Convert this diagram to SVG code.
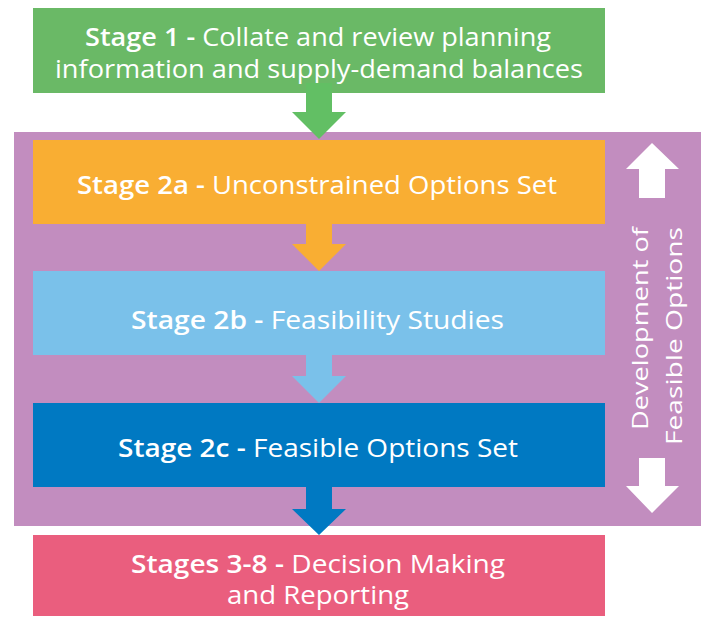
<svg xmlns="http://www.w3.org/2000/svg" width="705" height="617" viewBox="0 0 705 617">
<style>
text{font-family:"Open Sans","Liberation Sans",sans-serif;fill:#fff;font-size:25px}
.b{font-weight:600}
.v{font-size:21px;font-weight:500}
</style>
<rect width="705" height="617" fill="#fff"/>
<g id="panel">
<rect x="14" y="132" width="687" height="394" fill="#C28DBF"/>
<polygon points="652,143 679,169 665,169 665,198 639,198 639,169 626,169" fill="#fff"/>
<polygon points="639,458 665,458 665,486 679,486 652,513 626,486 639,486" fill="#fff"/>
<text class="v" transform="translate(648,430) rotate(-90)" textLength="203" lengthAdjust="spacingAndGlyphs">Development of</text>
<text class="v" transform="translate(682,445) rotate(-90)" textLength="218" lengthAdjust="spacingAndGlyphs">Feasible Options</text>
</g>
<g id="stage1">
<rect x="33" y="8" width="572" height="85" fill="#6AB966"/>
<text x="85" y="46" textLength="466" lengthAdjust="spacingAndGlyphs"><tspan class="b">Stage 1 - </tspan>Collate and review planning</text>
<text x="55" y="78" textLength="528" lengthAdjust="spacingAndGlyphs">information and supply-demand balances</text>
</g>
<g id="stage2a">
<rect x="33" y="140" width="572" height="84" fill="#F9AE33"/>
<text x="77" y="194" textLength="480" lengthAdjust="spacingAndGlyphs"><tspan class="b">Stage 2a - </tspan>Unconstrained Options Set</text>
</g>
<g id="stage2b">
<rect x="33" y="271" width="572" height="84" fill="#7AC1EA"/>
<text x="131" y="329" textLength="373" lengthAdjust="spacingAndGlyphs"><tspan class="b">Stage 2b - </tspan>Feasibility Studies</text>
</g>
<g id="stage2c">
<rect x="33" y="403" width="572" height="84" fill="#0079C2"/>
<text x="118" y="457" textLength="400" lengthAdjust="spacingAndGlyphs"><tspan class="b">Stage 2c - </tspan>Feasible Options Set</text>
</g>
<g id="stage3to8">
<rect x="33" y="535" width="572" height="81" fill="#EA5E7E"/>
<text x="131" y="573" textLength="374" lengthAdjust="spacingAndGlyphs"><tspan class="b">Stages 3-8 - </tspan>Decision Making</text>
<text x="227" y="604" textLength="182" lengthAdjust="spacingAndGlyphs">and Reporting</text>
</g>
<g id="connectors">
<polygon points="306,83 332,83 332,112 346,112 319,139 292,112 306,112" fill="#62BF64"/>
<polygon points="306,223 332,223 332,244 346,244 319,271 292,244 306,244" fill="#F9AE33"/>
<polygon points="306,355 332,355 332,376 346,376 319,403 292,376 306,376" fill="#7AC1EA"/>
<polygon points="306,487 332,487 332,509 346,509 319,535 292,509 306,509" fill="#0079C2"/>
</g>
</svg>
